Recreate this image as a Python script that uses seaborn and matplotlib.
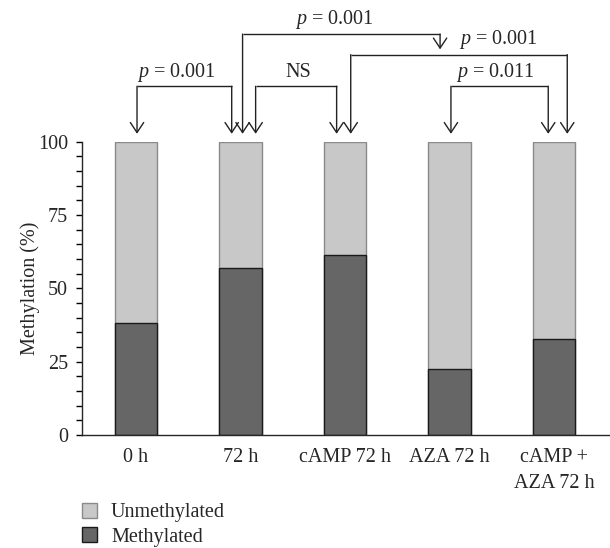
import matplotlib
matplotlib.use("Agg")
import matplotlib.pyplot as plt
from matplotlib.patches import Patch
from matplotlib.ticker import MultipleLocator
import pandas as pd
import seaborn as sns

# values (percent)
groups = ["0 h", "72 h", "cAMP 72 h", "AZA 72 h", "cAMP +\nAZA 72 h"]
methylated = [38.3, 56.9, 61.4, 22.4, 32.6]
unmethylated = [100 - v for v in methylated]

# pairwise comparisons: (first group, second group, label)
comparisons = [
    (0, 1, "$p$ = 0.001"),
    (1, 2, "NS"),
    (1, 3, "$p$ = 0.001"),
    (2, 4, "$p$ = 0.001"),
    (3, 4, "$p$ = 0.011"),
]

df = pd.DataFrame({
    "group": groups,
    "Methylated": methylated,
    "Unmethylated": unmethylated,
})
df["total"] = df["Methylated"] + df["Unmethylated"]

sns.set_style("ticks")
plt.rcParams["font.family"] = ["Liberation Serif", "DejaVu Serif"]
plt.rcParams["mathtext.fontset"] = "custom"
plt.rcParams["mathtext.it"] = "Liberation Serif:italic"
plt.rcParams["mathtext.rm"] = "Liberation Serif"

light = "#c8c8c8"
dark = "#666666"
fs = 14.5

fig = plt.figure(figsize=(6.1, 5.48), dpi=100)
ax = fig.add_axes([0.1352, 0.2062, 0.8648, 0.5352])

sns.barplot(data=df, x="group", y="total", color=light, width=0.405,
            edgecolor="#8a8a8a", linewidth=1.0, saturation=1, ax=ax)
sns.barplot(data=df, x="group", y="Methylated", color=dark, width=0.405,
            edgecolor="#1a1a1a", linewidth=1.0, saturation=1, ax=ax)

ax.set_xlim(-0.512, 4.536)
ax.set_ylim(0, 100)
ax.yaxis.set_major_locator(MultipleLocator(25))
ax.yaxis.set_minor_locator(MultipleLocator(5))
ax.tick_params(axis="y", which="both", length=4.5, width=1, pad=6,
               labelsize=fs, color="black")
ax.set_xticks(range(len(groups)))
ax.set_xticklabels(groups, linespacing=1.5)
ax.tick_params(axis="x", length=0, pad=9, labelsize=fs)
ax.set_xlabel("")
ax.set_ylabel("Methylation (%)", fontsize=fs)
ax.yaxis.set_label_coords(-0.08, 0.5)
sns.despine(ax=ax)
ax.spines["left"].set_linewidth(1)
ax.spines["bottom"].set_linewidth(1)
ax.spines["left"].set_bounds(0, 100)

# significance brackets: (x offset at start, x offset at end, bar level, text x, text y)
tip = 102.7
layout = [
    (0.01, -0.084, 118.9, 0.383, 123.7),
    (0.145, -0.08, 118.9, 1.55, 123.7),
    (0.02, -0.09, 136.7, 1.895, 141.8),
    (0.055, 0.127, 129.7, 3.464, 134.9),
    (0.014, -0.055, 118.9, 3.435, 123.7),
]
arrow_kw = dict(arrowstyle="->,head_length=0.6,head_width=0.4", lw=1.0,
                color="#222222", shrinkA=0, shrinkB=0, mutation_scale=12)
for (a, b, label), (oa, ob, level, tx, ty) in zip(comparisons, layout):
    xa, xb = a + oa, b + ob
    # the top bracket stops above the crossing bracket
    end_tip = 131.5 if level > 135 else tip
    ax.plot([xa, xb], [level, level], color="#222222", lw=1.0,
            clip_on=False, solid_capstyle="butt")
    ax.annotate("", xy=(xa, tip), xytext=(xa, level), arrowprops=arrow_kw,
                annotation_clip=False)
    ax.annotate("", xy=(xb, end_tip), xytext=(xb, level), arrowprops=arrow_kw,
                annotation_clip=False)
    ax.text(tx, ty, label, ha="center", va="center", fontsize=fs,
            clip_on=False)

handles = [
    Patch(facecolor=light, edgecolor="#8a8a8a", linewidth=1.0),
    Patch(facecolor=dark, edgecolor="#1a1a1a", linewidth=1.0),
]
fig.legend(handles, ["Unmethylated", "Methylated"], loc="upper left",
           bbox_to_anchor=(0.134, 0.082), frameon=False, fontsize=fs,
           handlelength=0.75, handleheight=0.75, handletextpad=0.7,
           labelspacing=0.25, borderpad=0, borderaxespad=0)

fig.savefig("out.png", dpi=100)
